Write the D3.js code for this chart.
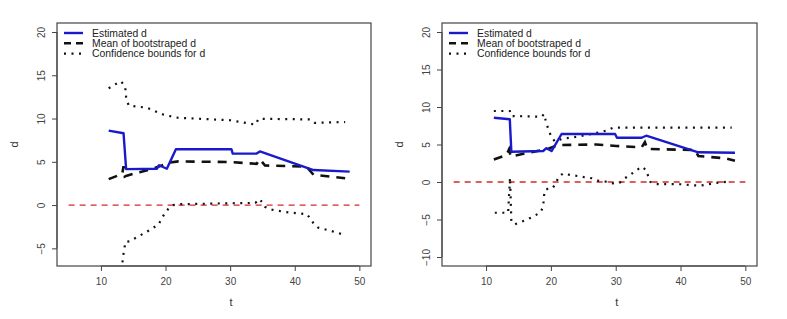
<!DOCTYPE html>
<html>
<head>
<meta charset="utf-8">
<script src="https://cdn.jsdelivr.net/npm/d3@7"></script>
<style>
  body { margin: 0; background: #fff; }
  text { font-family: "Liberation Sans", Arial, sans-serif; }
</style>
</head>
<body>
<div id="chart"></div>
<script>
// Data (t, d)
const xTicks = [10, 20, 30, 40, 50]
const yTicksLeft = [-5, 0, 5, 10, 15, 20]
const yTicksRight = [-10, -5, 0, 5, 10, 15, 20]
const legendLabels = ['Estimated d', 'Mean of bootstraped d', 'Confidence bounds for d']
const zeroLine = [[5, 0], [50, 0]]

const leftEstimated = [[11.2, 8.6], [13.5, 8.3], [13.9, 4.15], [18.65, 4.2], [19.0, 4.6], [20.2, 4.2],
  [21.6, 6.45], [30.2, 6.45], [30.4, 5.95], [34.1, 5.95], [34.6, 6.2], [42.9, 4.05], [48.5, 3.87]]
const leftMean = [[11.2, 3.0], [13.3, 3.6], [13.5, 4.5], [13.7, 3.3], [14.0, 3.4], [16, 3.8], [18, 4.2],
  [19.5, 4.6], [20.5, 4.9], [22, 5.05], [30, 4.97], [34.1, 4.77], [34.6, 5.3], [35.4, 4.57],
  [41.8, 4.45], [42.9, 3.5], [47.8, 3.1]]
const leftUpper = [[11.2, 13.5], [12.2, 13.95], [13.1, 14.3], [13.75, 13.7], [13.9, 12.4], [14.3, 11.5],
  [17.1, 11.25], [19.7, 10.45], [21.7, 10.1], [30, 9.8], [33.9, 9.3], [34.4, 9.97], [42.4, 9.9],
  [43.1, 9.5], [47.8, 9.6]]
const leftLower = [[11.2, -9.5], [13.1, -8.0], [13.35, -6.5], [13.5, -5.6], [13.8, -4.25], [14.4, -4.2],
  [16.1, -3.5], [17.5, -2.9], [18.9, -2.25], [19.8, -1.05], [20.4, -0.47], [21.2, 0.0], [22.3, 0.1],
  [29.2, 0.2], [33.9, 0.25], [34.5, 0.7], [35.0, 0.3], [35.4, -0.2], [36.2, -0.5], [38.5, -0.8],
  [40.8, -0.97], [41.9, -1.05], [42.9, -2.1], [43.6, -2.6], [45.7, -3.0], [47.9, -3.5]]

const rightEstimated = [[11.2, 8.57], [13.66, 8.36], [13.9, 4.04], [18.8, 4.13], [19.3, 4.5], [20.1, 4.13],
  [21.65, 6.4], [29.9, 6.4], [30.2, 5.9], [34.0, 5.9], [34.7, 6.17], [42.75, 3.96], [48.4, 3.9]]
const rightMean = [[11.2, 3.0], [13.15, 3.6], [13.55, 4.35], [13.8, 3.4], [16.75, 3.95], [19.3, 4.35],
  [21.1, 4.93], [27, 5.0], [30.1, 4.8], [34.0, 4.62], [34.5, 5.3], [34.9, 4.4], [42.2, 4.27],
  [42.75, 3.47], [46.9, 3.16], [48.4, 2.84]]
const rightUpper = [[11.2, 9.47], [13.66, 9.47], [13.9, 8.8], [18.55, 8.7], [18.96, 9.07], [19.3, 7.8],
  [19.95, 6.27], [20.6, 5.4], [21.9, 5.8], [24.2, 6.05], [26.5, 6.45], [28.6, 6.85], [29.6, 7.24],
  [47.9, 7.24]]
const rightLower = [[11.35, -4.1], [13.4, -4.1], [13.7, 0.6], [13.9, -5.3], [14.45, -5.64], [15.5, -5.3],
  [16.5, -4.93], [17.5, -4.5], [18.4, -4.04], [18.8, -3.3], [18.96, -1.73], [19.2, -0.97], [20.25, -0.85],
  [20.8, -0.1], [21.2, 0.7], [21.9, 1.15], [23, 0.93], [24.1, 0.8], [25.2, 0.63], [26.3, 0.5],
  [27.3, 0.17], [28.5, 0.04], [29.6, -0.18], [30.6, -0.1], [31.4, 0.5], [32.2, 0.93], [33.1, 1.5],
  [34, 2.04], [34.7, 1.6], [35.0, 0.8], [35.3, 0.04], [36.3, -0.27], [40, -0.3], [43.0, -0.5],
  [45.1, -0.18], [46.1, -0.05], [47.4, 0.04]]

// Dimensions
const width = 787, height = 319

const svg = d3.select('#chart')
  .append('svg')
  .attr('width', width)
  .attr('height', height)

const panels = [
  { id: 'L', left: 57, right: 371, top: 23, bottom: 266, yDomain: [-7.04, 21.04], yTicks: yTicksLeft,
    est: leftEstimated, mean: leftMean, upper: leftUpper, lower: leftLower },
  { id: 'R', left: 442, right: 757, top: 23, bottom: 266, yDomain: [-11.2, 21.2], yTicks: yTicksRight,
    est: rightEstimated, mean: rightMean, upper: rightUpper, lower: rightLower }
]

panels.forEach(p => {
  const xScale = d3.scaleLinear().domain([3.2, 51.8]).range([p.left, p.right])
  const yScale = d3.scaleLinear().domain(p.yDomain).range([p.bottom, p.top])
  const line = d3.line().x(d => xScale(d[0])).y(d => yScale(d[1]))

  svg.append('clipPath').attr('id', 'clip' + p.id)
    .append('rect')
    .attr('x', p.left).attr('y', p.top)
    .attr('width', p.right - p.left).attr('height', p.bottom - p.top)

  const plot = svg.append('g').attr('clip-path', `url(#clip${p.id})`)

  // red zero line
  plot.append('path').attr('d', line(zeroLine))
    .attr('fill', 'none').attr('stroke', '#d42a2a').attr('stroke-width', 1.4)
    .attr('stroke-dasharray', '6,5')

  // confidence bounds
  ;[p.upper, p.lower].forEach(s => {
    plot.append('path').attr('d', line(s))
      .attr('fill', 'none').attr('stroke', '#111').attr('stroke-width', 2.2)
      .attr('stroke-dasharray', '2,5.5')
  })

  // mean of bootstrap
  plot.append('path').attr('d', line(p.mean))
    .attr('fill', 'none').attr('stroke', '#111').attr('stroke-width', 2.6)
    .attr('stroke-dasharray', '9,7')

  // estimated
  plot.append('path').attr('d', line(p.est))
    .attr('fill', 'none').attr('stroke', '#1a1acd').attr('stroke-width', 2.4)
    .attr('stroke-linejoin', 'round')

  // box
  svg.append('rect')
    .attr('x', p.left).attr('y', p.top)
    .attr('width', p.right - p.left).attr('height', p.bottom - p.top)
    .attr('fill', 'none').attr('stroke', '#444').attr('stroke-width', 1.2)

  // X axis
  const xAxis = d3.axisBottom(xScale).tickValues(xTicks).tickSize(5).tickPadding(7).tickSizeOuter(0)
  const xg = svg.append('g').attr('transform', `translate(0,${p.bottom})`).call(xAxis)
  xg.select('.domain').attr('d', `M${xScale(10)},0H${xScale(50)}`).attr('stroke', '#444')
  xg.selectAll('line').attr('stroke', '#444')
  xg.selectAll('text').attr('font-size', '10px').attr('fill', '#444')
    .attr('font-family', '"Liberation Sans", Arial, sans-serif')

  // Y axis (labels rotated like R)
  const yAxis = d3.axisLeft(yScale).tickValues(p.yTicks).tickSize(5).tickSizeOuter(0)
  const yg = svg.append('g').attr('transform', `translate(${p.left},0)`).call(yAxis)
  const y0 = yScale(p.yTicks[0]), y1 = yScale(p.yTicks[p.yTicks.length - 1])
  yg.select('.domain').attr('d', `M0,${y0}V${y1}`).attr('stroke', '#444')
  yg.selectAll('line').attr('stroke', '#444')
  yg.selectAll('text')
    .attr('font-size', '10px').attr('fill', '#444')
    .attr('font-family', '"Liberation Sans", Arial, sans-serif')
    .attr('text-anchor', 'middle')
    .attr('x', 0).attr('y', 0).attr('dy', 0)
    .attr('transform', 'translate(-12,0) rotate(-90)')

  // axis titles
  svg.append('text')
    .attr('x', (xScale(10) + xScale(50)) / 2 + 1)
    .attr('y', 306)
    .attr('font-size', '11px').attr('fill', '#333')
    .attr('text-anchor', 'middle')
    .text('t')

  svg.append('text')
    .attr('transform', `translate(${p.left - 39},${(p.top + p.bottom) / 2}) rotate(-90)`)
    .attr('font-size', '11px').attr('fill', '#333')
    .attr('text-anchor', 'middle')
    .text('d')

  // Legend
  const lx = p.left + 7
  const styles = [
    { stroke: '#1a1acd', w: 2.4, dash: null },
    { stroke: '#111', w: 2.6, dash: '7,5' },
    { stroke: '#111', w: 2.2, dash: '2,5.5' }
  ]
  legendLabels.forEach((lab, i) => {
    const ly = 33 + i * 10.3
    svg.append('line')
      .attr('x1', lx).attr('x2', lx + 19).attr('y1', ly).attr('y2', ly)
      .attr('stroke', styles[i].stroke).attr('stroke-width', styles[i].w)
      .attr('stroke-dasharray', styles[i].dash)
    svg.append('text')
      .attr('x', lx + 28).attr('y', ly + 3.5)
      .attr('font-size', '10.4px').attr('fill', '#222')
      .text(lab)
  })
})
</script>
</body>
</html>
